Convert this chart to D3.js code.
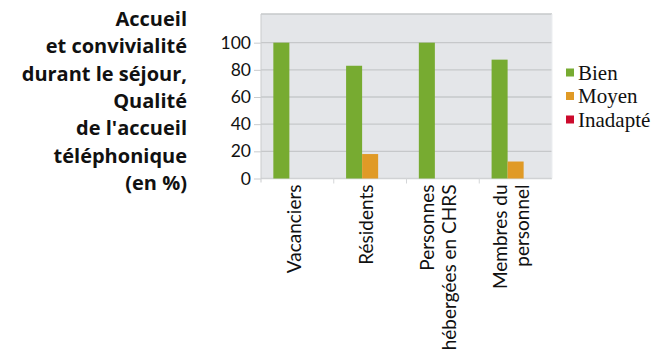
<!DOCTYPE html>
<html>
<head>
<meta charset="utf-8">
<script src="https://cdn.jsdelivr.net/npm/d3@7"></script>
<style>
  html, body { margin: 0; padding: 0; background: #fff; }
  svg { display: block; }
</style>
</head>
<body>
<svg id="chart" width="659" height="353"></svg>
<script>
// Satisfaction survey: share of answers per respondent group (%)
const categories = [
  ["Vacanciers"],
  ["Résidents"],
  ["Personnes", "hébergées en CHRS"],
  ["Membres du", "personnel"]
];
const seriesNames = ["Bien", "Moyen", "Inadapté"];
const bien     = [100, 83, 100, 87.5];
const moyen    = [0, 18, 0, 12.5];
const inadapte = [0, 0, 0, 0];
const yTicks = [0, 20, 40, 60, 80, 100];
const titleLines = [
  "Accueil",
  "et convivialité",
  "durant le séjour,",
  "Qualité",
  "de l'accueil",
  "téléphonique",
  "(en %)"
];
const colors = ["#77ab31", "#e09a26", "#cc0a2c"];

const values = [bien, moyen, inadapte];
const svg = d3.select("#chart");

const plot = { left: 261, right: 552, top: 14, bottom: 178.5 };

const catKeys = categories.map(c => c.join(" "));
const x0 = d3.scaleBand().domain(catKeys).range([plot.left, plot.right]).padding(0);
const x1 = d3.scaleBand().domain(seriesNames).range([0, x0.bandwidth()])
  .paddingInner(0).paddingOuter(0.77);
const y = d3.scaleLinear().domain([0, 120]).range([plot.bottom, plot.top + 1.5]);

// plot background
svg.append("rect")
  .attr("x", plot.left).attr("y", plot.top)
  .attr("width", plot.right - plot.left).attr("height", plot.bottom - plot.top)
  .attr("fill", "#e4e6e9");

// horizontal grid
svg.append("g")
  .selectAll("line")
  .data(yTicks.concat([120]))
  .join("line")
  .attr("x1", plot.left).attr("x2", plot.right)
  .attr("y1", d => d === 120 ? plot.top : y(d))
  .attr("y2", d => d === 120 ? plot.top : y(d))
  .attr("stroke", d => d === 0 ? "#d0d2d4" : "#c6c8ca")
  .attr("stroke-width", 1.3);

// right border
svg.append("line")
  .attr("x1", plot.right).attr("x2", plot.right)
  .attr("y1", plot.top).attr("y2", plot.bottom)
  .attr("stroke", "#eceef0");

// y axis
const yAxis = d3.axisLeft(y).tickValues(yTicks).tickSize(7).tickPadding(3);
const gy = svg.append("g").attr("transform", `translate(${plot.left},0)`).call(yAxis);
gy.select(".domain").attr("stroke", "#c9cbcd").attr("d", `M0,${plot.top}V${plot.bottom + 4}`);
gy.selectAll(".tick line").attr("stroke", "#c9cbcd");
gy.selectAll(".tick text")
  .attr("fill", "#111")
  .style("font-family", "Lato, 'Open Sans', sans-serif")
  .style("font-size", "17.5px");

// category separators below the axis
svg.append("g")
  .selectAll("line")
  .data(catKeys.slice(1))
  .join("line")
  .attr("x1", d => x0(d)).attr("x2", d => x0(d))
  .attr("y1", plot.bottom).attr("y2", plot.bottom + 5)
  .attr("stroke", "#d4d6d8");

// bars
const groups = svg.append("g")
  .selectAll("g")
  .data(catKeys)
  .join("g")
  .attr("transform", d => `translate(${x0(d)},0)`);

groups.selectAll("rect")
  .data((d, i) => seriesNames.map((s, j) => ({ s, v: values[j][i], c: colors[j] })))
  .join("rect")
  .attr("x", d => x1(d.s))
  .attr("width", x1.bandwidth())
  .attr("y", d => y(d.v))
  .attr("height", d => y(0) - y(d.v))
  .attr("fill", d => d.c);

// rotated category labels
const lineH = 22;
categories.forEach((lines, i) => {
  const n = lines.length;
  const cx = x0(catKeys[i]) + x0.bandwidth() / 2 - (n > 1 ? 4.5 : 3.5);
  lines.forEach((t, k) => {
    const lx = cx + (k - (n - 1) / 2) * lineH;
    svg.append("text")
      .attr("transform", `translate(${lx},${plot.bottom + 6}) rotate(-90)`)
      .attr("text-anchor", "end")
      .attr("dy", "0.36em")
      .style("font-family", "Lato, 'Open Sans', sans-serif")
      .style("font-size", "19px")
      .attr("fill", "#111")
      .text(t);
  });
});

// legend
const legend = svg.append("g").attr("transform", "translate(566,0)");
seriesNames.forEach((s, i) => {
  const cy = 72.5 + i * 23.5;
  legend.append("rect")
    .attr("x", 0).attr("y", cy - 4).attr("width", 8).attr("height", 8)
    .attr("fill", colors[i]);
  legend.append("text")
    .attr("x", 12).attr("y", cy).attr("dy", "0.35em")
    .style("font-family", "'Liberation Serif', 'DejaVu Serif', serif")
    .style("font-size", "21px")
    .attr("fill", "#111")
    .text(s);
});

// side title
const title = svg.append("text")
  .attr("text-anchor", "end")
  .style("font-family", "'Open Sans', Lato, sans-serif")
  .style("font-weight", "bold")
  .style("font-size", "20px")
  .attr("fill", "#111");
titleLines.forEach((t, i) => {
  title.append("tspan").attr("x", 187).attr("y", 26 + i * 27.3).text(t);
});
</script>
</body>
</html>
